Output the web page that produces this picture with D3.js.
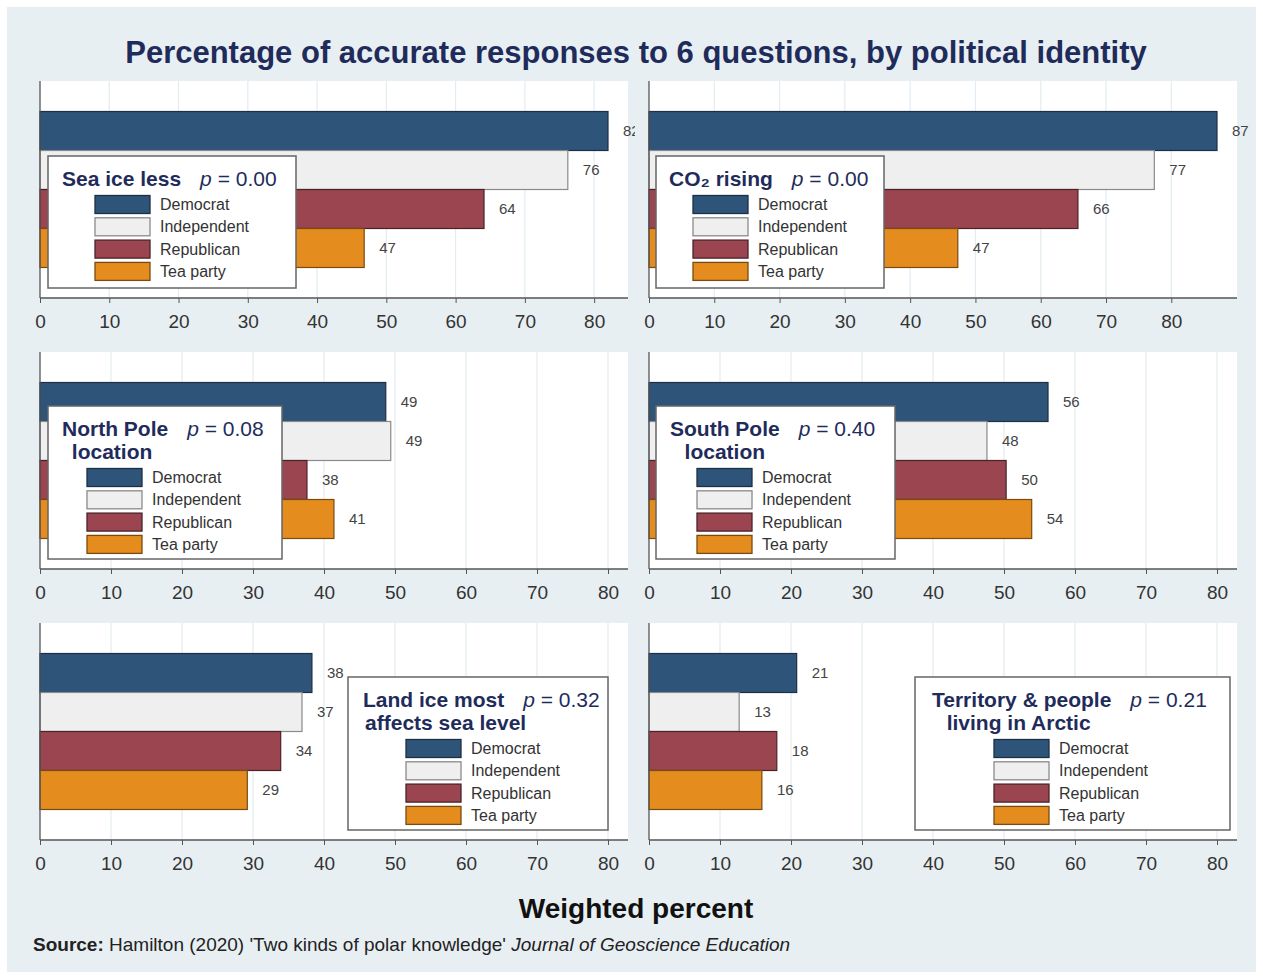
<!DOCTYPE html>
<html>
<head>
<meta charset="utf-8">
<script src="https://cdn.jsdelivr.net/npm/d3@7"></script>
<style>
  body { margin: 0; background: #fff; }
  svg { display: block; font-family: "Liberation Sans", Arial, sans-serif; }
</style>
</head>
<body>
<svg id="chart" width="1263" height="977"></svg>
<script>
// data
const parties = ['Democrat', 'Independent', 'Republican', 'Tea party'];
const titleLines = [
  ['Sea ice less'],
  ['CO\u2082 rising'],
  ['North Pole', 'location'],
  ['South Pole', 'location'],
  ['Land ice most', 'affects sea level'],
  ['Territory & people', 'living in Arctic']
];
const pValues = ['0.00', '0.00', '0.08', '0.40', '0.32', '0.21'];
const democrat = [82.0, 87.0, 48.7, 56.2, 38.3, 20.8];
const independent = [76.2, 77.4, 49.4, 47.6, 36.9, 12.7];
const republican = [64.1, 65.7, 37.6, 50.3, 33.9, 18.0];
const teaParty = [46.8, 47.3, 41.4, 53.9, 29.2, 15.9];
const xTicks = [0, 10, 20, 30, 40, 50, 60, 70, 80];

const colors = ['#2f5479', '#efefef', '#9a4550', '#e48c1e'];
const strokes = ['#1d2f45', '#8a8a8a', '#4a2228', '#7a4a10'];
const navy = '#1f2c5b';

// layout
const panelX = [40, 649];
const panelY = [81, 352, 623];
const plotW = 588, rangeW = 568, plotH = 217;
// legend boxes [x, y, w, h], title left x, second line shift, key left x
const legendBoxes = [
  [48, 156, 248, 132],
  [656, 156, 228, 132],
  [48, 406, 234, 153],
  [656, 406, 239, 153],
  [348, 677, 260, 153],
  [915, 677, 315, 153]
];
const titleX = [62, 669, 62, 670, 363, 932];
const lineShift = [0, 0, -3, 0, 12, -3];
const keyX = [95, 693, 87, 697, 406, 994];

const svg = d3.select('#chart');

svg.append('rect')
  .attr('x', 7).attr('y', 7)
  .attr('width', 1249).attr('height', 965)
  .attr('fill', '#e8eff2');

svg.append('text')
  .attr('x', 636).attr('y', 63)
  .attr('text-anchor', 'middle')
  .style('font-size', '31px')
  .style('font-weight', 'bold')
  .attr('fill', navy)
  .text('Percentage of accurate responses to 6 questions, by political identity');

const defs = svg.append('defs');

const yScale = d3.scaleBand()
  .domain(parties)
  .range([30.5, plotH - 30.5])
  .padding(0);

titleLines.forEach((lines, i) => {
  const col = i % 2;
  const row = Math.floor(i / 2);
  const x0 = panelX[col];
  const y0 = panelY[row];
  const values = [democrat[i], independent[i], republican[i], teaParty[i]];

  const xScale = d3.scaleLinear()
    .domain([0, Math.max(80, d3.max(values))])
    .range([0, rangeW]);

  const clipW = col === 0 ? 595 : 620;
  defs.append('clipPath').attr('id', 'clip' + i)
    .append('rect')
    .attr('x', -40).attr('y', -10)
    .attr('width', clipW + 40).attr('height', plotH + 80);

  const g = svg.append('g')
    .attr('transform', `translate(${x0},${y0})`)
    .attr('clip-path', `url(#clip${i})`);

  g.append('rect')
    .attr('width', plotW).attr('height', plotH)
    .attr('fill', '#fff');

  // grid
  g.selectAll('.grid')
    .data(xTicks.filter(d => d > 0))
    .join('line')
    .attr('x1', d => xScale(d)).attr('x2', d => xScale(d))
    .attr('y1', 0).attr('y2', plotH)
    .attr('stroke', '#e3ecf0')
    .attr('stroke-width', 1.2);

  // bars
  g.selectAll('.bar')
    .data(values)
    .join('rect')
    .attr('x', 0)
    .attr('y', (d, j) => yScale(parties[j]))
    .attr('width', d => xScale(d))
    .attr('height', yScale.bandwidth())
    .attr('fill', (d, j) => colors[j])
    .attr('stroke', (d, j) => strokes[j])
    .attr('stroke-width', 1.2);

  g.selectAll('.val')
    .data(values)
    .join('text')
    .attr('x', d => xScale(d) + 15)
    .attr('y', (d, j) => yScale(parties[j]) + yScale.bandwidth() / 2 + 5)
    .style('font-size', '15px')
    .attr('fill', '#444')
    .text(d => d3.format('.0f')(d));

  // axes
  const axis = g.append('g')
    .attr('transform', `translate(0,${plotH})`)
    .call(d3.axisBottom(xScale).tickValues(xTicks).tickSize(5).tickPadding(12));
  axis.attr('font-family', null);
  axis.select('.domain')
    .attr('d', `M0,0H${plotW}`)
    .attr('stroke', '#555')
    .attr('stroke-width', 1.3);
  axis.selectAll('.tick line').attr('stroke', '#555');
  axis.selectAll('.tick text')
    .style('font-size', '19px')
    .attr('fill', '#333');

  g.append('line')
    .attr('x1', 0).attr('x2', 0)
    .attr('y1', 0).attr('y2', plotH)
    .attr('stroke', '#555')
    .attr('stroke-width', 1.3);

  // legend
  const [bx, by, bw, bh] = legendBoxes[i];
  const lg = svg.append('g');
  lg.append('rect')
    .attr('x', bx).attr('y', by)
    .attr('width', bw).attr('height', bh)
    .attr('fill', '#fff')
    .attr('stroke', '#666')
    .attr('stroke-width', 1.5);

  const title = lg.append('g')
    .attr('transform', `translate(${titleX[i]},${by + 30})`);
  const first = title.append('text')
    .attr('x', 0).attr('y', 0)
    .style('font-size', '21px')
    .style('font-weight', 'bold')
    .attr('fill', navy)
    .text(lines[0]);
  const fw = first.node().getComputedTextLength();
  lines.slice(1).forEach((t, k) => {
    title.append('text')
      .attr('x', fw / 2 + lineShift[i])
      .attr('y', (k + 1) * 23)
      .attr('text-anchor', 'middle')
      .style('font-size', '21px')
      .style('font-weight', 'bold')
      .attr('fill', navy)
      .text(t);
  });
  const pt = title.append('text')
    .attr('x', fw + 19)
    .attr('y', 0)
    .style('font-size', '21px')
    .attr('fill', navy);
  pt.append('tspan').style('font-style', 'italic').text('p');
  pt.append('tspan').text(' = ' + pValues[i]);

  const keyTop = by + 30 + (lines.length - 1) * 23 + 18.5;
  const keys = lg.append('g')
    .attr('transform', `translate(${keyX[i]},${keyTop})`);
  parties.forEach((p, j) => {
    keys.append('rect')
      .attr('x', 0).attr('y', j * 22.3 - 9)
      .attr('width', 55).attr('height', 18)
      .attr('fill', colors[j])
      .attr('stroke', strokes[j])
      .attr('stroke-width', 1.3);
    keys.append('text')
      .attr('x', 65).attr('y', j * 22.3 + 5.5)
      .style('font-size', '16px')
      .attr('fill', '#333')
      .text(p);
  });
});

svg.append('text')
  .attr('x', 636).attr('y', 918)
  .attr('text-anchor', 'middle')
  .style('font-size', '28px')
  .style('font-weight', 'bold')
  .attr('fill', '#111')
  .text('Weighted percent');

const src = svg.append('text')
  .attr('x', 33).attr('y', 951)
  .style('font-size', '19px')
  .attr('fill', '#222');
src.append('tspan').style('font-weight', 'bold').text('Source:');
src.append('tspan').text(" Hamilton (2020) 'Two kinds of polar knowledge' ");
src.append('tspan').style('font-style', 'italic').text('Journal of Geoscience Education');
</script>
</body>
</html>
